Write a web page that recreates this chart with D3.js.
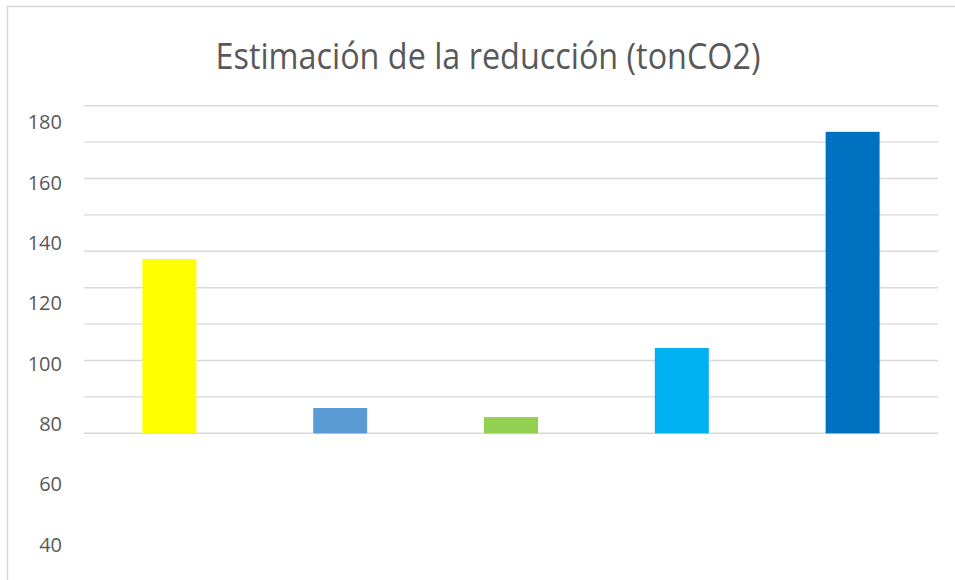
<!DOCTYPE html>
<html>
  <head>
    <meta charset="UTF-8" />
    <title>Estimación de la reducción (tonCO2)</title>
    <style>
      body,
      html {
        margin: 0;
        padding: 0;
        overflow: hidden;
        background: #fff;
      }
      .grid line {
        stroke: #d9d9d9;
        stroke-width: 1.4px;
      }
      .y-labels text {
        font-family: "Open Sans", sans-serif;
        font-size: 20px;
        fill: #595959;
      }
    </style>
  </head>
  <body>
    <svg id="chart"></svg>
    <script src="https://d3js.org/d3.v7.min.js"></script>
    <script>
      // data
      const categories = ["A", "B", "C", "D", "E"];
      const values = [134.7, 85.3, 82.3, 105.2, 176.9];
      const barColors = ["#ffff00", "#5b9bd5", "#92d050", "#00b0f0", "#0070c0"];
      const tickLabels = [40, 60, 80, 100, 120, 140, 160, 180];
      const gridSteps = d3.range(10);
      const baseValue = 76.9;

      const width = 955;
      const height = 580;

      const svg = d3.select("#chart").attr("width", width).attr("height", height);

      // outer chart frame
      svg
        .append("rect")
        .attr("x", 7.5)
        .attr("y", 6.5)
        .attr("width", width + 10)
        .attr("height", height + 10)
        .attr("fill", "#fff")
        .attr("stroke", "#d9d9d9")
        .attr("stroke-width", 1.5);

      svg
        .append("text")
        .attr("x", 488)
        .attr("y", 69)
        .attr("text-anchor", "middle")
        .style("font-family", "'Open Sans', sans-serif")
        .style("font-size", "36px")
        .style("fill", "#595959")
        .attr("textLength", 545)
        .attr("lengthAdjust", "spacingAndGlyphs")
        .text("Estimación de la reducción (tonCO2)");

      const x = d3
        .scaleBand()
        .domain(categories)
        .range([84, 938])
        .paddingInner(0.684)
        .paddingOuter(0.342);

      // value scale used for labels and bars
      const y = d3.scaleLinear().domain([40, 180]).range([544.6, 122.5]);

      // gridlines sit on their own spacing
      const grid = d3.scaleLinear().domain([0, 9]).range([433.3, 105.7]);

      svg
        .append("g")
        .attr("class", "grid")
        .selectAll("line")
        .data(gridSteps)
        .enter()
        .append("line")
        .attr("x1", 84)
        .attr("x2", 938)
        .attr("y1", (d) => grid(d))
        .attr("y2", (d) => grid(d));

      const yAxis = d3
        .axisLeft(y)
        .tickValues(tickLabels)
        .tickSize(0)
        .tickPadding(0);

      svg
        .append("g")
        .attr("class", "y-labels")
        .attr("transform", "translate(62,0)")
        .call(yAxis)
        .call((g) => g.select(".domain").remove());

      svg
        .append("g")
        .selectAll("rect")
        .data(values)
        .enter()
        .append("rect")
        .attr("x", (d, i) => x(categories[i]))
        .attr("width", x.bandwidth())
        .attr("y", (d) => y(d))
        .attr("height", (d) => y(baseValue) - y(d))
        .attr("fill", (d, i) => barColors[i]);
    </script>
  </body>
</html>
